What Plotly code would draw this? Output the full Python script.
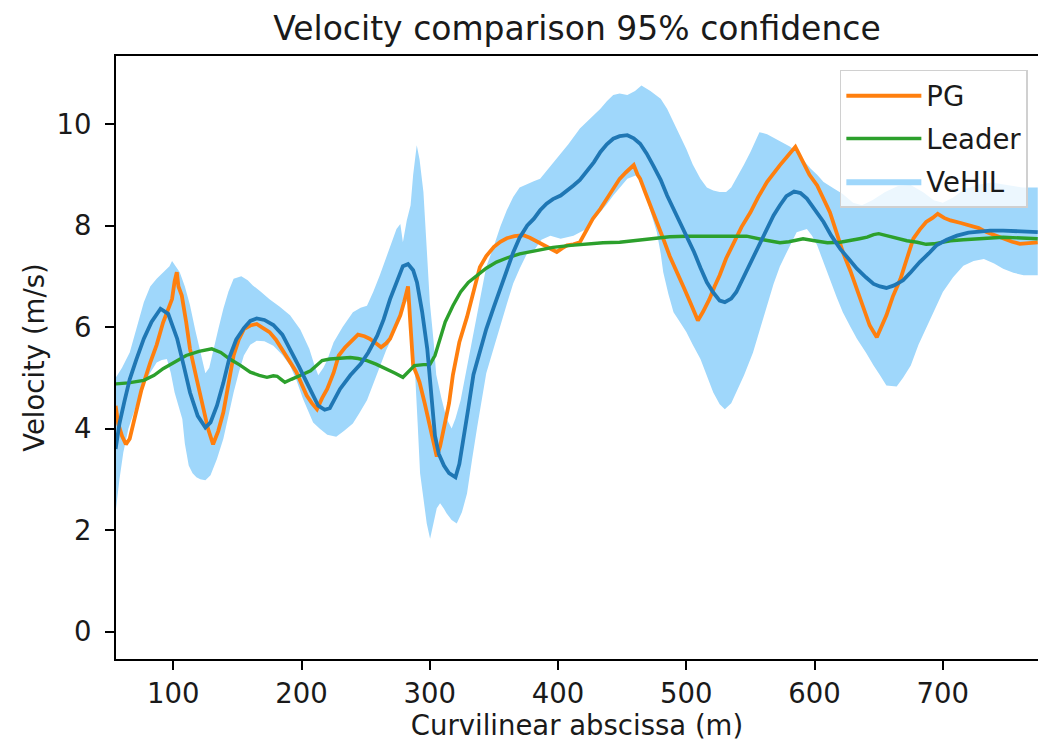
import plotly.graph_objects as go

# ---------------- data ----------------
vehil_x = [55, 58, 62, 66, 71, 77, 83, 90, 96, 103, 108, 113, 119, 125, 129, 134, 139, 144, 149, 155,
           160, 165, 171, 178, 185, 191, 198, 204, 209, 213, 218, 222, 230, 238, 246, 252, 259, 264, 269, 274,
           279, 283, 287, 290, 294, 298, 301, 304, 307, 311, 315, 320, 323, 326, 330, 334, 339, 344, 350, 355,
           360, 365, 370, 376, 381, 386, 391, 396, 402, 407, 412, 417, 422, 428, 433, 438, 443, 448, 454, 459,
           464, 469, 474, 480, 485, 490, 495, 500, 506, 511, 516, 521, 526, 530, 535, 539, 545, 552, 557, 563,
           568, 573, 578, 584, 589, 594, 600, 607, 613, 620, 627, 633, 640, 646, 651, 656, 662, 669, 675, 682,
           689, 695, 703, 711, 720, 727, 737, 747, 760, 774]
vehil_mean = [3.6, 4.1, 4.55, 4.97, 5.35, 5.77, 6.1, 6.36, 6.26, 5.77, 5.25, 4.71, 4.25, 4.02, 4.12, 4.45, 4.9, 5.42, 5.75, 5.98,
              6.12, 6.17, 6.14, 6.04, 5.85, 5.57, 5.22, 4.91, 4.65, 4.45, 4.37, 4.4, 4.78, 5.05, 5.27, 5.5, 5.83, 6.15, 6.55, 6.9,
              7.2, 7.24, 7.12, 6.88, 6.3, 5.57, 4.7, 3.86, 3.5, 3.27, 3.12, 3.04, 3.3, 3.73, 4.4, 5.06, 5.5, 5.96, 6.4, 6.75,
              7.12, 7.47, 7.76, 8.0, 8.13, 8.3, 8.43, 8.52, 8.59, 8.68, 8.79, 8.9, 9.05, 9.25, 9.45, 9.6, 9.71, 9.76, 9.78, 9.72,
              9.61, 9.42, 9.19, 8.9, 8.59, 8.33, 8.07, 7.78, 7.48, 7.17, 6.88, 6.68, 6.52, 6.49, 6.56, 6.69, 7.0, 7.34, 7.62, 7.93,
              8.2, 8.4, 8.58, 8.67, 8.64, 8.53, 8.32, 8.07, 7.8, 7.54, 7.33, 7.15, 6.98, 6.85, 6.8, 6.77, 6.82, 6.92, 7.08, 7.28,
              7.45, 7.61, 7.72, 7.8, 7.86, 7.88, 7.9, 7.9, 7.88, 7.87]

upper_x = [55, 60, 66, 71, 77, 82, 87, 93, 97, 99, 102, 105, 109, 113, 117, 121, 125, 128, 131, 135,
           139, 143, 147, 153, 158, 162, 168, 175, 183, 191, 199, 206, 210, 213, 217, 220, 225, 232, 240, 246,
           251, 256, 261, 267, 274, 277, 279, 282, 285, 287, 289.8, 292, 295, 297, 300, 303, 305, 309, 313, 317,
           320, 324, 329, 334, 339, 344, 350, 355, 360, 365, 370, 376, 381, 386, 392, 399, 408, 417, 425, 433,
           438, 443, 448, 454, 460, 465, 472, 480, 485, 490, 495, 500, 505, 511, 516, 521, 526, 531, 535, 539,
           545, 550, 557, 563, 570, 576, 581, 586, 591, 597, 602, 607, 615, 622, 630, 637, 645, 655, 665, 675,
           685, 693, 700, 708, 716, 726, 738, 750, 762, 774]
upper_y = [5.0, 5.2, 5.5, 5.95, 6.49, 6.8, 6.95, 7.1, 7.2, 7.3, 7.2, 7.08, 6.8, 6.43, 5.95, 5.5, 5.09, 5.2, 5.5, 5.95,
           6.36, 6.7, 6.95, 7.0, 6.92, 6.82, 6.7, 6.55, 6.4, 6.23, 5.95, 5.57, 5.25, 5.05, 5.2, 5.35, 5.7, 6.0, 6.29, 6.38,
           6.42, 6.7, 7.02, 7.45, 7.93, 8.03, 7.67, 8.1, 8.4, 9.0, 9.58, 9.3, 8.66, 7.8, 6.49, 5.7, 5.06, 4.6, 4.2, 4.0,
           4.2, 4.56, 5.2, 5.88, 6.5, 7.19, 7.6, 7.98, 8.3, 8.56, 8.75, 8.82, 8.87, 8.92, 9.1, 9.32, 9.6, 9.91, 10.1, 10.3,
           10.45, 10.57, 10.6, 10.57, 10.65, 10.76, 10.65, 10.5, 10.3, 10.04, 9.8, 9.51, 9.2, 8.92, 8.75, 8.69, 8.66, 8.66, 8.75, 8.92,
           9.2, 9.45, 9.84, 9.8, 9.7, 9.61, 9.55, 9.45, 9.3, 9.12, 9.0, 8.86, 8.73, 8.62, 8.45, 8.4, 8.5, 8.66, 8.78, 8.8,
           8.65, 8.5, 8.45, 8.55, 8.7, 8.8, 8.85, 8.8, 8.75, 8.75]

lower_x = [55, 58, 61, 65, 69, 73, 77, 82, 87, 91, 95, 98, 101, 104, 107, 109, 112, 115, 118, 121,
           125, 129, 134, 139, 143, 147, 151, 155, 160, 165, 171, 178, 185, 191, 196, 201, 205, 209, 214, 220,
           227, 233, 240, 245, 251, 256, 261, 266, 272, 276, 281, 284, 286, 288.5, 290.5, 292.4, 295, 297.6, 300.2, 302,
           305.4, 308, 311, 313, 317, 321, 325, 329, 333, 337, 341, 344, 350, 355, 360, 365, 370, 376, 381, 387,
           394, 402, 412, 422, 428, 433, 438, 443, 448, 454, 461, 465, 469, 473, 477, 480, 482, 486, 490, 495,
           500, 505, 511, 516, 521, 526, 530, 535, 539, 545, 552, 557, 563, 568, 573, 576, 581, 586, 594, 598,
           602, 607, 612, 617, 622, 628, 633, 640, 646, 651, 656, 664, 669, 675, 681, 688, 694, 700, 708, 716,
           724, 732, 740, 747, 755, 763, 774]
lower_y = [2.35, 3.0, 3.53, 4.0, 4.32, 4.6, 4.85, 5.1, 5.3, 5.35, 5.37, 5.1, 4.71, 4.45, 4.19, 3.7, 3.27, 3.12, 3.04, 3.0,
           2.98, 3.08, 3.4, 3.8, 4.25, 4.71, 5.1, 5.44, 5.65, 5.73, 5.72, 5.63, 5.45, 5.24, 4.95, 4.59, 4.35, 4.12, 4.0, 3.88,
           3.84, 3.95, 4.1, 4.3, 4.56, 4.9, 5.22, 5.55, 5.87, 6.2, 6.54, 6.4, 5.8, 5.09, 4.1, 3.12, 2.6, 2.13, 1.83, 2.0,
           2.43, 2.53, 2.42, 2.33, 2.2, 2.13, 2.35, 2.72, 3.4, 4.04, 4.6, 5.09, 5.6, 6.0, 6.45, 6.86, 7.15, 7.46, 7.5, 7.72,
           7.8, 7.74, 7.8, 7.93, 8.1, 8.26, 8.42, 8.59, 8.75, 8.92, 8.99, 8.8, 8.53, 8.2, 7.87, 7.45, 7.08, 6.65, 6.29, 6.1,
           5.9, 5.65, 5.37, 5.05, 4.71, 4.48, 4.38, 4.5, 4.71, 5.05, 5.5, 5.95, 6.42, 6.85, 7.2, 7.34, 7.6, 7.87, 7.93, 7.8,
           7.61, 7.3, 6.95, 6.6, 6.29, 6.0, 5.77, 5.5, 5.24, 5.05, 4.85, 4.83, 5.0, 5.24, 5.65, 6.03, 6.35, 6.69, 6.98, 7.21,
           7.3, 7.34, 7.25, 7.15, 7.07, 7.02, 7.02]

pg_x = [55, 57, 60, 63, 66, 70, 75, 82, 87, 92, 96, 99, 101, 102.7, 104, 106.6, 110, 113, 118, 123,
        127, 131, 135, 139, 143, 147, 151, 155, 160, 165, 170, 175, 180, 186, 191, 196, 200, 204, 208, 212,
        216, 220, 225, 229, 234, 238, 244, 249, 253, 258, 262, 266, 269, 273, 277, 280, 283, 285, 287, 290,
        292, 296, 300, 303, 305.4, 308, 311, 315, 318, 323, 329, 334, 339, 344, 350, 355, 360, 366, 373, 378,
        383, 389, 394, 399, 403, 407, 412, 417, 422, 427, 433, 438, 443, 448, 453, 459, 462, 464, 468, 472,
        477, 482, 487, 493, 498, 503, 506, 509, 513, 518, 522, 526, 531, 537, 543, 550, 556, 563, 568, 573,
        579, 585, 588, 591, 596, 602, 607, 612, 617, 622, 628, 633, 638, 643, 648.5, 652, 656, 661, 667, 672,
        677, 682, 687, 692, 696, 701, 706, 714, 721, 728, 734, 741, 747, 754, 760, 767, 774]
pg_v = [4.45, 4.1, 3.85, 3.69, 3.8, 4.2, 4.75, 5.3, 5.65, 6.09, 6.35, 6.55, 6.9, 7.08, 6.8, 6.62, 6.1, 5.57, 5.0, 4.45,
        4.0, 3.69, 3.95, 4.32, 4.9, 5.44, 5.75, 5.96, 6.03, 6.06, 5.98, 5.9, 5.75, 5.5, 5.3, 5.11, 4.88, 4.65, 4.5, 4.38,
        4.6, 4.78, 5.1, 5.44, 5.6, 5.71, 5.85, 5.82, 5.77, 5.68, 5.6, 5.68, 5.77, 6.0, 6.23, 6.5, 6.8, 6.0, 5.24, 5.05,
        4.91, 4.5, 4.06, 3.7, 3.45, 3.65, 3.99, 4.5, 5.06, 5.7, 6.2, 6.7, 7.18, 7.4, 7.58, 7.68, 7.75, 7.79, 7.81, 7.76,
        7.69, 7.62, 7.55, 7.48, 7.55, 7.61, 7.63, 7.67, 7.9, 8.13, 8.33, 8.53, 8.72, 8.92, 9.05, 9.19, 9.0, 8.92, 8.65, 8.4,
        8.07, 7.74, 7.4, 7.08, 6.78, 6.49, 6.3, 6.13, 6.3, 6.55, 6.8, 7.02, 7.35, 7.67, 7.97, 8.26, 8.56, 8.86, 9.03, 9.19,
        9.37, 9.55, 9.4, 9.25, 9.0, 8.79, 8.52, 8.26, 7.87, 7.48, 7.1, 6.75, 6.4, 6.03, 5.8, 6.0, 6.23, 6.6, 6.95, 7.35,
        7.74, 7.92, 8.07, 8.15, 8.23, 8.15, 8.1, 8.05, 8.0, 7.95, 7.87, 7.8, 7.74, 7.68, 7.64, 7.66, 7.67]

leader_x = [55, 65, 77, 85, 92, 100, 110, 120, 130, 137, 144, 152, 160, 167, 173, 178, 181, 184, 187, 192,
            196, 201, 207, 212, 216, 222, 230, 238, 244, 251, 258, 266, 273, 279, 284, 288, 295, 300, 304, 308,
            312, 318, 324, 330, 337, 344, 352, 361, 370, 378, 386, 396, 410, 422, 435, 448, 461, 474, 487, 500,
            526, 547, 560, 573, 580, 591, 600, 610, 620, 628, 635, 641, 646, 650, 656, 664, 672, 680, 687, 693,
            700, 706, 716, 727, 747, 774]
leader_v = [4.88, 4.9, 4.95, 5.05, 5.18, 5.3, 5.44, 5.52, 5.57, 5.5, 5.37, 5.25, 5.11, 5.05, 5.01, 5.04, 5.03, 4.97, 4.91, 4.97,
            5.01, 5.07, 5.14, 5.25, 5.34, 5.37, 5.38, 5.4, 5.38, 5.34, 5.27, 5.18, 5.09, 5.01, 5.13, 5.24, 5.26, 5.26, 5.44, 5.8,
            6.1, 6.42, 6.69, 6.88, 7.02, 7.16, 7.28, 7.37, 7.44, 7.48, 7.51, 7.57, 7.61, 7.64, 7.66, 7.67, 7.71, 7.75, 7.78, 7.79,
            7.79, 7.79, 7.72, 7.66, 7.68, 7.74, 7.7, 7.66, 7.67, 7.7, 7.74, 7.77, 7.82, 7.84, 7.8, 7.74, 7.7, 7.67, 7.63, 7.64,
            7.68, 7.7, 7.72, 7.74, 7.77, 7.74]

x_ticks = [100, 200, 300, 400, 500, 600, 700]
y_ticks = [0, 2, 4, 6, 8, 10]

# ---------------- figure ----------------
FONT = "DejaVu Sans"
TXT = "#1a1a1a"
fig = go.Figure()

band_x = upper_x + lower_x[::-1]
band_y = upper_y + lower_y[::-1]
fig.add_trace(go.Scatter(x=band_x, y=band_y, mode="lines", fill="toself",
                         fillcolor="#9fd7fb", line=dict(width=0, color="#9fd7fb"),
                         name="VeHIL", legendgroup="c", legendrank=3, hoverinfo="skip"))
fig.add_trace(go.Scatter(x=pg_x, y=pg_v, mode="lines", name="PG",
                         line=dict(color="#ff7f0e", width=3.8), legendgroup="a", legendrank=1))
fig.add_trace(go.Scatter(x=leader_x, y=leader_v, mode="lines", name="Leader",
                         line=dict(color="#2ca02c", width=3.4), legendgroup="b", legendrank=2))
fig.add_trace(go.Scatter(x=vehil_x, y=vehil_mean, mode="lines", name="VeHIL mean",
                         line=dict(color="#1f77b4", width=3.8), showlegend=False))

axis_common = dict(showline=True, linecolor="black", linewidth=2,
                   ticks="outside", ticklen=9, tickwidth=2, tickcolor="black",
                   showgrid=False, zeroline=False,
                   tickfont=dict(family=FONT, size=27.5, color=TXT))

fig.update_layout(
    width=1038, height=744,
    margin=dict(l=116, r=0, t=56, b=85),
    paper_bgcolor="white", plot_bgcolor="white",
    title=dict(text="Velocity comparison 95% confidence", x=0.5, xref="paper",
               y=1 - 28 / 744, yref="container", yanchor="middle", xanchor="center",
               font=dict(family=FONT, size=33, color=TXT)),
    xaxis=dict(range=[55.3, 774.2], tickvals=x_ticks, ticklabelstandoff=0, mirror=True,
               title=dict(text="Curvilinear abscissa (m)", font=dict(family=FONT, size=27.5, color=TXT), standoff=4),
               **axis_common),
    yaxis=dict(range=[-0.54, 11.34], tickvals=y_ticks, ticklabelstandoff=8, mirror=False,
               title=dict(text="Velocity (m/s)", font=dict(family=FONT, size=27.5, color=TXT), standoff=4),
               **axis_common),
    legend=dict(x=0.989, y=0.977, xanchor="right", yanchor="top",
                bgcolor="rgba(255,255,255,0.8)", bordercolor="#d0d0d0", borderwidth=1.5,
                font=dict(family=FONT, size=27.5, color=TXT),
                traceorder="grouped", tracegroupgap=4, itemwidth=75),
    showlegend=True,
)

fig.write_html("out.html")
